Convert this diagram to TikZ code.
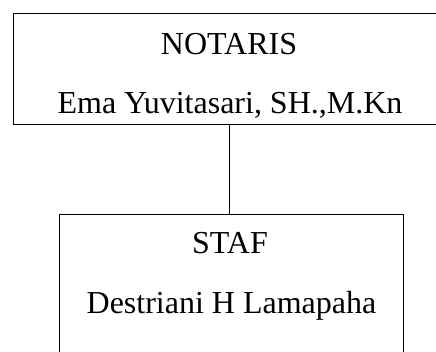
\documentclass[tikz,border=0pt]{standalone}
\usepackage{fontspec}
\setmainfont{Liberation Serif}
\usetikzlibrary{positioning}
\tikzset{
  orgbox/.style={draw, line width=1pt, inner sep=0pt},
  orgtext/.style={anchor=base, inner sep=0pt, font=\fontsize{32}{38}\selectfont},
}
\begin{document}
\begin{tikzpicture}[x=1pt,y=-1pt]
    \useasboundingbox (0,0) rectangle (436,351);
    \clip (0,0) rectangle (436,351);
    % kotak
    \node[orgbox, minimum width=440pt, minimum height=111pt] (notaris) at (233,68.5) {};
    \node[orgbox, minimum width=344pt, minimum height=166pt] (staf) at (231,297) {};

    % teks
    \node[orgtext] (jabatan1) at (229,54) {NOTARIS};
    \node[orgtext] (nama1) at (230,113) {Ema Yuvitasari, SH.,M.Kn};
    \node[orgtext] (jabatan2) at (230,253) {STAF};
    \node[orgtext] (nama2) at (231.5,313) {Destriani H Lamapaha};

    % garis
    \draw[line width=1pt] ([xshift=-4pt]notaris.south) -- ([xshift=-2pt]staf.north);
\end{tikzpicture}
\end{document}
